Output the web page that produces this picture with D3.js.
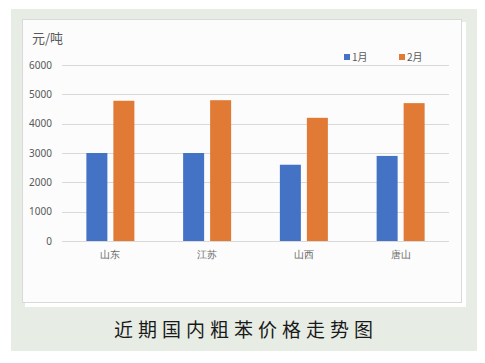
<!DOCTYPE html>
<html>
<head>
<meta charset="utf-8">
<script src="https://cdn.jsdelivr.net/npm/d3@7"></script>
<style>
  body { margin: 0; background: #fff; }
  svg { display: block; font-family: "Noto Sans CJK SC", "Noto Sans", sans-serif; }
</style>
</head>
<body>
<svg id="chart" width="485" height="363"></svg>
<script>
// data
var regions = ['山东', '江苏', '山西', '唐山'];
var seriesNames = ['1月', '2月'];
var jan = [3000, 3000, 2600, 2900];
var feb = [4780, 4800, 4200, 4700];
var yTicks = [0, 1000, 2000, 3000, 4000, 5000, 6000];
var colors = ['#4472C4', '#E07A35'];

var svg = d3.select('#chart');

// outer greenish card + white panel
svg.append('rect').attr('x', 11).attr('y', 9).attr('width', 466).attr('height', 342).attr('fill', '#E7EDE5');
svg.append('rect').attr('x', 25).attr('y', 22).attr('width', 441).attr('height', 285).attr('fill', '#fff');
svg.append('rect').attr('x', 22.5).attr('y', 19.5).attr('width', 439).attr('height', 283)
  .attr('fill', '#FCFCFC').attr('stroke', '#D9D9D9').attr('stroke-width', 1);

var x0 = d3.scaleBand().domain(regions).range([62, 449]).paddingInner(0).paddingOuter(0);
var y = d3.scaleLinear().domain([0, 6000]).range([241, 65]);

// gridlines
svg.append('g').selectAll('line').data(yTicks).enter().append('line')
  .attr('x1', 62).attr('x2', 449)
  .attr('y1', function(d) { return Math.round(y(d)) + 0.5; })
  .attr('y2', function(d) { return Math.round(y(d)) + 0.5; })
  .attr('stroke', '#D9D9D9').attr('stroke-width', 1);

// y axis labels
var yAxis = d3.axisLeft(y).tickValues(yTicks).tickFormat(d3.format('d')).tickSize(0).tickPadding(10);
var gy = svg.append('g').attr('transform', 'translate(62,0)').call(yAxis);
gy.select('.domain').remove();
gy.selectAll('text').attr('fill', '#595959').style('font-size', '10px')
  .style('font-family', '"Noto Sans", sans-serif');

// x axis labels
var xAxis = d3.axisBottom(x0).tickSize(0).tickPadding(10);
var gx = svg.append('g').attr('transform', 'translate(0,241)').call(xAxis);
gx.select('.domain').remove();
gx.selectAll('text').attr('fill', '#6b6b6b').style('font-size', '10px');

// bars
var barW = 21, gap = 6;
var data = regions.map(function(r, i) { return {region: r, vals: [jan[i], feb[i]]}; });
var groups = svg.append('g').selectAll('g').data(data).enter().append('g')
  .attr('transform', function(d) { return 'translate(' + (x0(d.region) + x0.bandwidth() / 2) + ',0)'; });
groups.selectAll('rect').data(function(d) { return d.vals; }).enter().append('rect')
  .attr('x', function(d, i) { return i === 0 ? -(barW + gap / 2) : gap / 2; })
  .attr('y', function(d) { return y(d); })
  .attr('width', barW)
  .attr('height', function(d) { return y(0) - y(d); })
  .attr('fill', function(d, i) { return colors[i]; });

// unit label
svg.append('text').attr('x', 32).attr('y', 43).attr('fill', '#595959')
  .style('font-size', '13px').text('元/吨');

// legend
var legendX = [344, 399];
var lg = svg.append('g').selectAll('g').data(seriesNames).enter().append('g')
  .attr('transform', function(d, i) { return 'translate(' + legendX[i] + ',54)'; });
lg.append('rect').attr('width', 6).attr('height', 6).attr('fill', function(d, i) { return colors[i]; });
lg.append('text').attr('x', 8).attr('y', 7).attr('fill', '#595959').style('font-size', '10px')
  .text(function(d) { return d; });

// bottom title
svg.append('text').attr('x', 246).attr('y', 337).attr('text-anchor', 'middle')
  .attr('fill', '#1a1a1a').style('font-size', '19px').style('letter-spacing', '5px')
  .text('近期国内粗苯价格走势图');
</script>
</body>
</html>
